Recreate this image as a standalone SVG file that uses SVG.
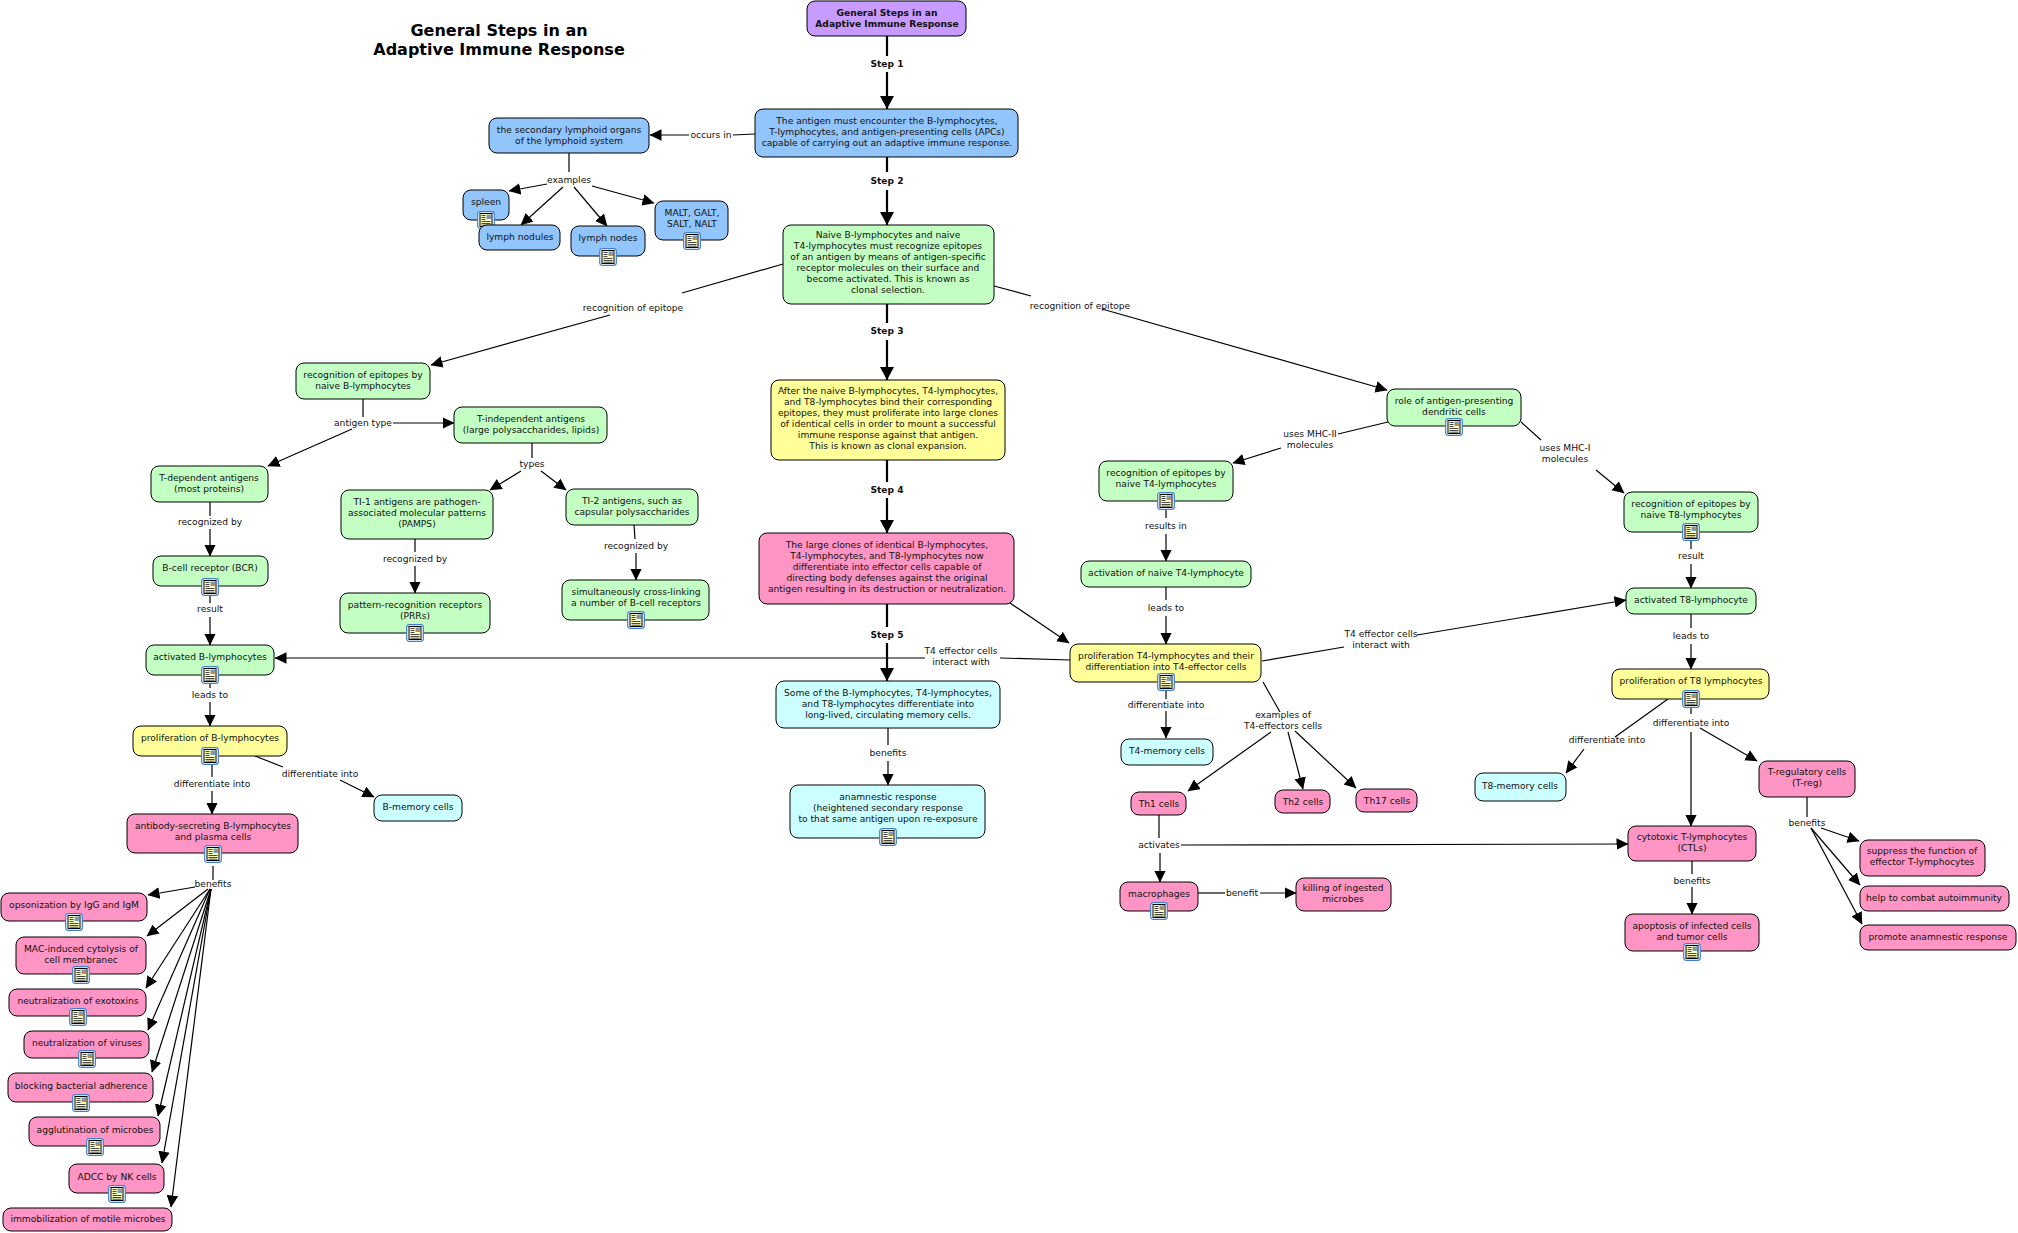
<svg xmlns="http://www.w3.org/2000/svg" width="2018" height="1233" viewBox="0 0 2018 1233">
<style>
text{font-family:"DejaVu Sans",Verdana,sans-serif;font-size:9.15px;fill:#111;text-anchor:middle;transform:translateY(-1px)}
.b{font-weight:bold}
.title{font-size:16px;font-weight:bold;fill:#000;transform:none}
rect.n{stroke:#000;stroke-width:1}
.pu{fill:#C79BFF}.bl{fill:#91C5FB}.gr{fill:#C3FFC3}.ye{fill:#FFFF99}.pk{fill:#FF95C4}.cy{fill:#CCFFFF}
.l{fill:none;stroke:#000;stroke-width:1.2}
.a{marker-end:url(#ah)}
.s{stroke-width:2.2}
.sa{marker-end:url(#ahs)}
</style>
<defs>
<marker id="ah" markerUnits="userSpaceOnUse" markerWidth="13" markerHeight="13" refX="11.5" refY="6" orient="auto"><path d="M0,0.2L12,6L0,11.8Z"/></marker>
<marker id="ahs" markerUnits="userSpaceOnUse" markerWidth="15" markerHeight="16" refX="13" refY="7" orient="auto"><path d="M0,0L13,7L0,14Z"/></marker>
<symbol id="ic" viewBox="0 0 18 18" overflow="visible">
<rect x="0.7" y="0.7" width="16.6" height="16.6" rx="2.5" fill="#fff" stroke="#3F7FD0" stroke-width="1.2"/>
<rect x="3" y="2.5" width="12" height="13" fill="#FFFFC0" stroke="#000" stroke-width="1"/>
<rect x="9.5" y="3.5" width="4.5" height="4.5" fill="#6CA0C8"/><path d="M10,7L12,4.5L14,7Z" fill="#D08050"/>
<path d="M4.5,4.5H8.5M4.5,6.5H8.5M4.5,8.5H8.5M4.5,10.5H13.5M4.5,12.5H13.5M4.5,14.2H13.5" stroke="#333" stroke-width="0.9"/>
</symbol>
</defs>
<text class="title" x="499" y="36">General Steps in an</text>
<text class="title" x="499" y="55">Adaptive Immune Response</text>
<g id="connectors">
<path class="l s" d="M887,36V56"/><path class="l s sa" d="M887,72V109"/><text class="b" x="887" y="68">Step 1</text>
<path class="l s" d="M887,157V172"/><path class="l s sa" d="M887,190V225"/><text class="b" x="887" y="185">Step 2</text>
<path class="l s" d="M887,304V323"/><path class="l s sa" d="M887,340V380"/><text class="b" x="887" y="335">Step 3</text>
<path class="l s" d="M887,460V482"/><path class="l s sa" d="M887,498V533"/><text class="b" x="887" y="494">Step 4</text>
<path class="l s" d="M887,604V627"/><path class="l s sa" d="M887,643V681"/><text class="b" x="887" y="639">Step 5</text>
<path class="l" d="M755,134L733,135"/><path class="l a" d="M689,135H650"/><text x="711" y="139">occurs in</text>
<path class="l" d="M569,153V172"/><text x="569" y="184">examples</text>
<path class="l a" d="M547,184L509,191"/><path class="l a" d="M563,187L521,225"/><path class="l a" d="M574,187L607,226"/><path class="l a" d="M592,186L654,203"/>
<path class="l" d="M783,264L682,293"/><path class="l a" d="M610,315L431,365"/><text x="633" y="312">recognition of epitope</text>
<path class="l" d="M994,286L1031,296"/><path class="l a" d="M1102,309L1387,390"/><text x="1080" y="310">recognition of epitope</text>
<path class="l" d="M363,399V417"/><text x="363" y="427">antigen type</text><path class="l a" d="M393,423H454"/><path class="l a" d="M352,429L268,466"/>
<path class="l" d="M210,502V516"/><path class="l a" d="M210,529V556"/><text x="210" y="526">recognized by</text>
<path class="l" d="M210,588V603"/><path class="l a" d="M210,617V645"/><text x="210" y="613">result</text>
<path class="l" d="M210,676V688"/><path class="l a" d="M210,702V726"/><text x="210" y="699">leads to</text>
<path class="l" d="M212,757V777"/><path class="l a" d="M212,791V814"/><text x="212" y="788">differentiate into</text>
<path class="l" d="M255,756L283,767"/><path class="l a" d="M340,780L374,797"/><text x="320" y="778">differentiate into</text>
<path class="l" d="M532,443V458"/><text x="532" y="468">types</text><path class="l a" d="M521,471L490,490"/><path class="l a" d="M541,471L566,490"/>
<path class="l" d="M415,539V552"/><path class="l a" d="M415,566V593"/><text x="415" y="563">recognized by</text>
<path class="l" d="M634,525L635,539"/><path class="l a" d="M636,553V580"/><text x="636" y="550">recognized by</text>
<path class="l" d="M213,866V880"/><text x="213" y="888">benefits</text>
<path class="l a" d="M195,887L148,895"/>
<path class="l a" d="M208,889L147,936"/><path class="l a" d="M210,889L146,988"/><path class="l a" d="M210,889L148,1030"/><path class="l a" d="M211,889L152,1072"/><path class="l a" d="M211,889L158,1116"/><path class="l a" d="M211,889L162,1163"/><path class="l a" d="M211,889L171,1207"/>
<path class="l a" d="M1010,603L1069,643"/>
<path class="l" d="M1070,660L1000,658"/><path class="l a" d="M925,658H275"/><text x="961" y="655">T4 effector cells</text><text x="961" y="666">interact with</text>
<path class="l" d="M1262,661L1344,647"/><path class="l a" d="M1417,635L1626,600"/><text x="1381" y="638">T4 effector cells</text><text x="1381" y="649">interact with</text>
<path class="l" d="M1166,691V699"/><path class="l a" d="M1166,711V738"/><text x="1166" y="709">differentiate into</text>
<path class="l" d="M1263,682L1280,712"/><text x="1283" y="719">examples of</text><text x="1283" y="730">T4-effectors cells</text>
<path class="l a" d="M1271,732L1188,791"/><path class="l a" d="M1288,732L1303,789"/><path class="l a" d="M1295,731L1356,788"/>
<path class="l" d="M1159,815V838"/><text x="1159" y="849">activates</text><path class="l a" d="M1181,845L1628,844"/><path class="l a" d="M1160,853V882"/>
<path class="l" d="M1198,893H1225"/><path class="l a" d="M1260,893H1296"/><text x="1242" y="897">benefit</text>
<path class="l" d="M1388,422L1338,434"/><path class="l a" d="M1281,448L1233,463"/><text x="1310" y="438">uses MHC-II</text><text x="1310" y="449">molecules</text>
<path class="l" d="M1521,422L1541,440"/><path class="l a" d="M1596,470L1624,493"/><text x="1565" y="452">uses MHC-I</text><text x="1565" y="463">molecules</text>
<path class="l" d="M1166,502V518"/><path class="l a" d="M1166,534V561"/><text x="1166" y="530">results in</text>
<path class="l" d="M1166,587V600"/><path class="l a" d="M1166,616V644"/><text x="1166" y="612">leads to</text>
<path class="l" d="M1691,533V549"/><path class="l a" d="M1691,564V588"/><text x="1691" y="560">result</text>
<path class="l" d="M1691,614V628"/><path class="l a" d="M1691,644V669"/><text x="1691" y="640">leads to</text>
<path class="l" d="M1668,699L1615,737"/><path class="l a" d="M1584,749L1566,773"/><text x="1607" y="744">differentiate into</text>
<path class="l" d="M1691,700V714"/><path class="l a" d="M1691,732V826"/><text x="1691" y="727">differentiate into</text>
<path class="l a" d="M1700,728L1757,761"/>
<path class="l" d="M1807,797V817"/><text x="1807" y="827">benefits</text>
<path class="l a" d="M1821,828L1859,841"/><path class="l a" d="M1811,828L1860,885"/><path class="l a" d="M1811,828L1862,924"/>
<path class="l" d="M1692,861V874"/><path class="l a" d="M1692,887V914"/><text x="1692" y="885">benefits</text>
<path class="l" d="M888,728V745"/><path class="l a" d="M888,761V785"/><text x="888" y="757">benefits</text>
</g>
<g id="n1"><rect class="n pu" x="807" y="1" width="159" height="35" rx="8"/><text class="b" x="887" y="17">General Steps in an<tspan x="887" dy="11">Adaptive Immune Response</tspan></text></g>
<g id="n2"><rect class="n bl" x="755" y="109" width="263" height="48" rx="8"/><text x="887" y="125">The antigen must encounter the B-lymphocytes,<tspan x="887" dy="11">T-lymphocytes, and antigen-presenting cells (APCs)</tspan><tspan x="887" dy="11">capable of carrying out an adaptive immune response.</tspan></text></g>
<g id="n3"><rect class="n bl" x="489" y="118" width="160" height="35" rx="8"/><text x="569" y="134">the secondary lymphoid organs<tspan x="569" dy="11">of the lymphoid system</tspan></text></g>
<g id="n4"><rect class="n bl" x="463" y="190" width="46" height="30" rx="8"/><text x="486" y="206">spleen</text><use href="#ic" x="477" y="211" width="18" height="18"/></g>
<g id="n5"><rect class="n bl" x="479" y="225" width="81" height="25" rx="8"/><text x="520" y="241">lymph nodules</text></g>
<g id="n6"><rect class="n bl" x="571" y="226" width="74" height="30" rx="8"/><text x="608" y="242">lymph nodes</text><use href="#ic" x="599" y="248" width="18" height="18"/></g>
<g id="n7"><rect class="n bl" x="655" y="201" width="73" height="39" rx="8"/><text x="692" y="217">MALT, GALT,<tspan x="692" dy="11">SALT, NALT</tspan></text><use href="#ic" x="683" y="232" width="18" height="18"/></g>
<g id="n8"><rect class="n gr" x="783" y="225" width="211" height="79" rx="8"/><text x="888" y="239">Naive B-lymphocytes and naive<tspan x="888" dy="11">T4-lymphocytes must recognize epitopes</tspan><tspan x="888" dy="11">of an antigen by means of antigen-specific</tspan><tspan x="888" dy="11">receptor molecules on their surface and</tspan><tspan x="888" dy="11">become activated. This is known as</tspan><tspan x="888" dy="11">clonal selection.</tspan></text></g>
<g id="n9"><rect class="n gr" x="296" y="363" width="134" height="36" rx="8"/><text x="363" y="379">recognition of epitopes by<tspan x="363" dy="11">naive B-lymphocytes</tspan></text></g>
<g id="n10"><rect class="n gr" x="151" y="466" width="117" height="36" rx="8"/><text x="209" y="482">T-dependent antigens<tspan x="209" dy="11">(most proteins)</tspan></text></g>
<g id="n11"><rect class="n gr" x="454" y="407" width="153" height="36" rx="8"/><text x="531" y="423">T-independent antigens<tspan x="531" dy="11">(large polysaccharides, lipids)</tspan></text></g>
<g id="n12"><rect class="n gr" x="153" y="556" width="115" height="30" rx="8"/><text x="210" y="572">B-cell receptor (BCR)</text><use href="#ic" x="201" y="578" width="18" height="18"/></g>
<g id="n13"><rect class="n gr" x="341" y="490" width="152" height="49" rx="8"/><text x="417" y="506">TI-1 antigens are pathogen-<tspan x="417" dy="11">associated molecular patterns</tspan><tspan x="417" dy="11">(PAMPS)</tspan></text></g>
<g id="n14"><rect class="n gr" x="566" y="489" width="132" height="36" rx="8"/><text x="632" y="505">TI-2 antigens, such as<tspan x="632" dy="11">capsular polysaccharides</tspan></text></g>
<g id="n15"><rect class="n gr" x="340" y="593" width="150" height="40" rx="8"/><text x="415" y="609">pattern-recognition receptors<tspan x="415" dy="11">(PRRs)</tspan></text><use href="#ic" x="406" y="624" width="18" height="18"/></g>
<g id="n16"><rect class="n gr" x="562" y="580" width="147" height="40" rx="8"/><text x="636" y="596">simultaneously cross-linking<tspan x="636" dy="11">a number of B-cell receptors</tspan></text><use href="#ic" x="627" y="611" width="18" height="18"/></g>
<g id="n17"><rect class="n gr" x="146" y="645" width="128" height="30" rx="8"/><text x="210" y="661">activated B-lymphocytes</text><use href="#ic" x="201" y="666" width="18" height="18"/></g>
<g id="n18"><rect class="n ye" x="133" y="726" width="154" height="30" rx="8"/><text x="210" y="742">proliferation of B-lymphocytes</text><use href="#ic" x="201" y="747" width="18" height="18"/></g>
<g id="n19"><rect class="n pk" x="127" y="814" width="171" height="39" rx="8"/><text x="213" y="830">antibody-secreting B-lymphocytes<tspan x="213" dy="11">and plasma cells</tspan></text><use href="#ic" x="204" y="845" width="18" height="18"/></g>
<g id="n20"><rect class="n cy" x="374" y="795" width="88" height="26" rx="8"/><text x="418" y="811">B-memory cells</text></g>
<g id="n21"><rect class="n pk" x="1" y="893" width="146" height="28" rx="8"/><text x="74" y="909">opsonization by IgG and IgM</text><use href="#ic" x="65" y="913" width="18" height="18"/></g>
<g id="n22"><rect class="n pk" x="16" y="937" width="130" height="37" rx="8"/><text x="81" y="953">MAC-induced cytolysis of<tspan x="81" dy="11">cell membranec</tspan></text><use href="#ic" x="72" y="966" width="18" height="18"/></g>
<g id="n23"><rect class="n pk" x="9" y="989" width="137" height="27" rx="8"/><text x="78" y="1005">neutralization of exotoxins</text><use href="#ic" x="69" y="1008" width="18" height="18"/></g>
<g id="n24"><rect class="n pk" x="24" y="1031" width="125" height="27" rx="8"/><text x="87" y="1047">neutralization of viruses</text><use href="#ic" x="78" y="1050" width="18" height="18"/></g>
<g id="n25"><rect class="n pk" x="8" y="1073" width="145" height="29" rx="8"/><text x="81" y="1090">blocking bacterial adherence</text><use href="#ic" x="72" y="1094" width="18" height="18"/></g>
<g id="n26"><rect class="n pk" x="29" y="1117" width="131" height="29" rx="8"/><text x="95" y="1134">agglutination of microbes</text><use href="#ic" x="86" y="1138" width="18" height="18"/></g>
<g id="n27"><rect class="n pk" x="69" y="1164" width="95" height="29" rx="8"/><text x="117" y="1181">ADCC by NK cells</text><use href="#ic" x="108" y="1185" width="18" height="18"/></g>
<g id="n28"><rect class="n pk" x="3" y="1208" width="169" height="23" rx="8"/><text x="88" y="1223">immobilization of motile microbes</text></g>
<g id="n29"><rect class="n ye" x="771" y="380" width="234" height="80" rx="8"/><text x="888" y="395">After the naive B-lymphocytes, T4-lymphocytes,<tspan x="888" dy="11">and T8-lymphocytes bind their corresponding</tspan><tspan x="888" dy="11">epitopes, they must proliferate into large clones</tspan><tspan x="888" dy="11">of identical cells in order to mount a successful</tspan><tspan x="888" dy="11">immune response against that antigen.</tspan><tspan x="888" dy="11">This is known as clonal expansion.</tspan></text></g>
<g id="n30"><rect class="n pk" x="759" y="533" width="255" height="71" rx="8"/><text x="887" y="549">The large clones of identical B-lymphocytes,<tspan x="887" dy="11">T4-lymphocytes, and T8-lymphocytes now</tspan><tspan x="887" dy="11">differentiate into effector cells capable of</tspan><tspan x="887" dy="11">directing body defenses against the original</tspan><tspan x="887" dy="11">antigen resulting in its destruction or neutralization.</tspan></text></g>
<g id="n31"><rect class="n cy" x="776" y="681" width="224" height="47" rx="8"/><text x="888" y="697">Some of the B-lymphocytes, T4-lymphocytes,<tspan x="888" dy="11">and T8-lymphocytes differentiate into</tspan><tspan x="888" dy="11">long-lived, circulating memory cells.</tspan></text></g>
<g id="n32"><rect class="n cy" x="790" y="785" width="195" height="53" rx="8"/><text x="888" y="801">anamnestic response<tspan x="888" dy="11">(heightened secondary response</tspan><tspan x="888" dy="11">to that same antigen upon re-exposure</tspan></text><use href="#ic" x="879" y="828" width="18" height="18"/></g>
<g id="n33"><rect class="n gr" x="1387" y="389" width="134" height="37" rx="8"/><text x="1454" y="405">role of antigen-presenting<tspan x="1454" dy="11">dendritic cells</tspan></text><use href="#ic" x="1445" y="418" width="18" height="18"/></g>
<g id="n34"><rect class="n gr" x="1099" y="461" width="134" height="40" rx="8"/><text x="1166" y="477">recognition of epitopes by<tspan x="1166" dy="11">naive T4-lymphocytes</tspan></text><use href="#ic" x="1157" y="492" width="18" height="18"/></g>
<g id="n35"><rect class="n gr" x="1081" y="561" width="170" height="26" rx="8"/><text x="1166" y="577">activation of naive T4-lymphocyte</text></g>
<g id="n36"><rect class="n ye" x="1070" y="644" width="191" height="38" rx="8"/><text x="1166" y="660">proliferation T4-lymphocytes and their<tspan x="1166" dy="11">differentiation into T4-effector cells</tspan></text><use href="#ic" x="1157" y="673" width="18" height="18"/></g>
<g id="n37"><rect class="n cy" x="1121" y="739" width="92" height="26" rx="8"/><text x="1167" y="755">T4-memory cells</text></g>
<g id="n38"><rect class="n pk" x="1131" y="792" width="55" height="23" rx="8"/><text x="1159" y="808">Th1 cells</text></g>
<g id="n39"><rect class="n pk" x="1275" y="790" width="55" height="23" rx="8"/><text x="1303" y="806">Th2 cells</text></g>
<g id="n40"><rect class="n pk" x="1356" y="789" width="61" height="23" rx="8"/><text x="1387" y="805">Th17 cells</text></g>
<g id="n41"><rect class="n pk" x="1120" y="882" width="78" height="29" rx="8"/><text x="1159" y="898">macrophages</text><use href="#ic" x="1150" y="902" width="18" height="18"/></g>
<g id="n42"><rect class="n pk" x="1296" y="878" width="95" height="33" rx="8"/><text x="1343" y="892">killing of ingested<tspan x="1343" dy="11">microbes</tspan></text></g>
<g id="n43"><rect class="n gr" x="1624" y="492" width="134" height="40" rx="8"/><text x="1691" y="508">recognition of epitopes by<tspan x="1691" dy="11">naive T8-lymphocytes</tspan></text><use href="#ic" x="1682" y="523" width="18" height="18"/></g>
<g id="n44"><rect class="n gr" x="1626" y="588" width="130" height="26" rx="8"/><text x="1691" y="604">activated T8-lymphocyte</text></g>
<g id="n45"><rect class="n ye" x="1612" y="669" width="157" height="30" rx="8"/><text x="1691" y="685">proliferation of T8 lymphocytes</text><use href="#ic" x="1682" y="690" width="18" height="18"/></g>
<g id="n46"><rect class="n cy" x="1475" y="773" width="91" height="28" rx="8"/><text x="1520" y="790">T8-memory cells</text></g>
<g id="n47"><rect class="n pk" x="1759" y="761" width="96" height="36" rx="8"/><text x="1807" y="776">T-regulatory cells<tspan x="1807" dy="11">(T-reg)</tspan></text></g>
<g id="n48"><rect class="n pk" x="1628" y="826" width="128" height="35" rx="8"/><text x="1692" y="841">cytotoxic T-lymphocytes<tspan x="1692" dy="11">(CTLs)</tspan></text></g>
<g id="n49"><rect class="n pk" x="1625" y="914" width="134" height="37" rx="8"/><text x="1692" y="930">apoptosis of infected cells<tspan x="1692" dy="11">and tumor cells</tspan></text><use href="#ic" x="1683" y="943" width="18" height="18"/></g>
<g id="n50"><rect class="n pk" x="1860" y="840" width="125" height="36" rx="8"/><text x="1922" y="855">suppress the function of<tspan x="1922" dy="11">effector T-lymphocytes</tspan></text></g>
<g id="n51"><rect class="n pk" x="1860" y="886" width="149" height="25" rx="8"/><text x="1934" y="902">help to combat autoimmunity</text></g>
<g id="n52"><rect class="n pk" x="1860" y="925" width="156" height="25" rx="8"/><text x="1938" y="941">promote anamnestic response</text></g>
</svg>
